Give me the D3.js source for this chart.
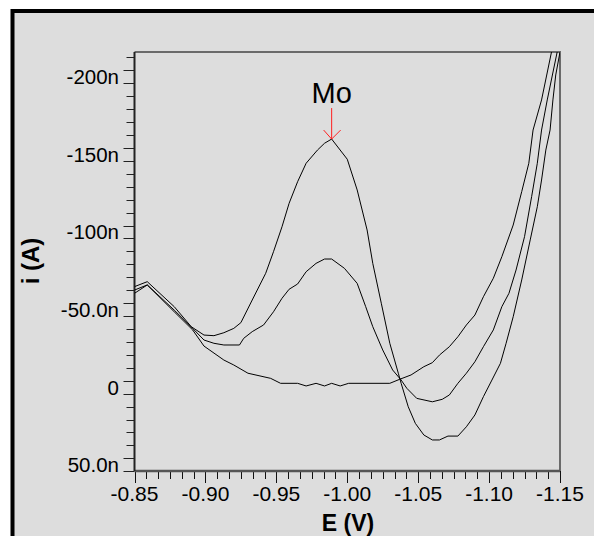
<!DOCTYPE html>
<meta charset="utf-8">
<style>
body { margin: 0; background: #fff; }
text { font-family: Arial, "Liberation Sans", sans-serif; }
</style>
<body>
<script src="https://d3js.org/d3.v7.min.js"></script>
<script>

// potential (V) and current (nA) for the three scans
let scanA_E = [-0.850, -0.859, -0.878, -0.890, -0.899, -0.906, -0.913, -0.920, -0.925, -0.933, -0.9425, -0.948, -0.954, -0.959, -0.965, -0.971, -0.979, -0.984, -0.989, -1.000, -1.007, -1.014, -1.018, -1.024, -1.030, -1.036, -1.038, -1.043, -1.048, -1.054, -1.060, -1.065, -1.071, -1.078, -1.084, -1.090, -1.096, -1.102, -1.108, -1.112, -1.117, -1.123, -1.129, -1.134, -1.137, -1.140, -1.143, -1.145, -1.147, -1.150];
let scanA_i = [-64.8, -68.0, -51.9, -39.0, -33.6, -33.2, -35.1, -37.9, -41.6, -56.2, -73.4, -87.3, -103.4, -118.5, -132.4, -144.3, -152.8, -157.2, -159.9, -146.9, -127.1, -101.3, -79.8, -54.1, -28.3, -9.0, -2.5, 12.6, 23.3, 30.8, 34.0, 34.0, 31.5, 31.5, 25.5, 17.9, 6.1, -4.6, -15.4, -28.3, -45.4, -69.1, -94.9, -116.3, -133.5, -152.8, -165.7, -185.1, -201.2, -216];

let scanB_E = [-0.850, -0.859, -0.878, -0.891, -0.899, -0.906, -0.913, -0.924, -0.927, -0.933, -0.941, -0.948, -0.954, -0.959, -0.965, -0.971, -0.978, -0.984, -0.989, -0.998, -1.007, -1.013, -1.018, -1.025, -1.032, -1.038, -1.042, -1.049, -1.060, -1.067, -1.072, -1.078, -1.084, -1.090, -1.096, -1.103, -1.109, -1.114, -1.119, -1.125, -1.130, -1.134, -1.137, -1.141, -1.148];
let scanB_i = [-62.6, -65.9, -49.7, -37.9, -30.4, -28.3, -27.2, -27.2, -31.5, -35.8, -40.1, -48.6, -57.3, -63.1, -66.5, -74.4, -79.8, -82.6, -82.6, -76.6, -66.9, -51.9, -39.0, -24.0, -11.1, -4.6, 0.7, 7.2, 9.4, 7.8, 5.0, -2.5, -9.0, -16.4, -26.1, -36.9, -51.9, -60.5, -75.5, -97.0, -122.8, -144.3, -165.7, -185.1, -216];

let scanC_E = [-0.850, -0.859, -0.878, -0.891, -0.899, -0.913, -0.920, -0.930, -0.946, -0.953, -0.965, -0.971, -0.978, -0.984, -0.989, -0.995, -1.001, -1.030, -1.037, -1.045, -1.054, -1.060, -1.065, -1.072, -1.078, -1.084, -1.090, -1.096, -1.103, -1.109, -1.117, -1.123, -1.128, -1.131, -1.137, -1.144];
let scanC_i = [-60.5, -65.9, -48.6, -36.9, -26.5, -17.5, -14.3, -9.0, -5.7, -2.5, -2.5, -0.8, -2.5, -0.8, -2.5, -0.8, -2.5, -2.5, -5.1, -7.9, -13.2, -15.8, -20.7, -26.1, -32.5, -40.1, -46.5, -58.3, -70.2, -84.1, -104.5, -126.0, -144.3, -165.7, -185.1, -216];

let xTickLabels = ["-0.85", "-0.90", "-0.95", "-1.00", "-1.05", "-1.10", "-1.15"];
let yTickValues = [-200, -150, -100, -50, 0, 50];
let yTickLabels = ["-200n", "-150n", "-100n", "-50.0n", "0", "50.0n"];
let peakLabel = "Mo";
let peakE = -0.989;
let peakI = -159.9;

let width = 594;
let height = 536;

let svg = d3.select("body").append("svg")
    .attr("width", width)
    .attr("height", height);

// panel with heavy black frame
svg.append("rect")
    .attr("x", 12.5).attr("y", 11)
    .attr("width", 700).attr("height", 700)
    .attr("fill", "#dddddd")
    .attr("stroke", "#000")
    .attr("stroke-width", 4);

let x = d3.scaleLinear().domain([-0.85, -1.15]).range([134.5, 560]);
let y = d3.scaleLinear().domain([-216, 54]).range([52, 471]);

svg.append("defs").append("clipPath").attr("id", "plotclip")
  .append("rect")
    .attr("x", x(-0.85)).attr("y", y(-216))
    .attr("width", x(-1.15) - x(-0.85)).attr("height", y(54) - y(-216));

// top and right edges of the plot box
svg.append("path")
    .attr("d", `M${x(-0.85)},${y(-216)}H${x(-1.15)}V${y(54)}`)
    .attr("fill", "none")
    .attr("stroke", "#6a6a6a")
    .attr("stroke-width", 2);

// x axis: ticks every 0.05/6 V
let xTicks = d3.range(0, 37).map(k => -0.85 - k * 0.05 / 6);
let gx = svg.append("g");
gx.selectAll("line.tick")
  .data(xTicks)
  .enter().append("line")
    .attr("x1", d => Math.round(x(d)) + 0.5)
    .attr("x2", d => Math.round(x(d)) + 0.5)
    .attr("y1", y(54))
    .attr("y2", (d, i) => y(54) + (i % 6 == 0 ? 12 : 8))
    .attr("stroke", "#111")
    .attr("stroke-width", 1);
gx.append("line")
    .attr("x1", x(-0.85)).attr("x2", x(-1.15))
    .attr("y1", y(54)).attr("y2", y(54))
    .attr("stroke", "#555")
    .attr("stroke-width", 2.5);
gx.selectAll("text")
  .data(xTickLabels)
  .enter().append("text")
    .attr("x", d => x(+d))
    .attr("y", 501)
    .attr("text-anchor", "middle")
    .attr("font-size", 21)
    .text(d => d);

// y axis: ticks at odd multiples of 25/6 nA
let yTicks = d3.range(-26, 7).map(k => (2 * k + 1) * 25 / 6);
let gy = svg.append("g");
gy.selectAll("line.tick")
  .data(yTicks)
  .enter().append("line")
    .attr("x1", d => yTickValues.some(v => Math.abs(v - d) < 5) ? x(-0.85) - 11 : x(-0.85) - 8)
    .attr("x2", x(-0.85))
    .attr("y1", d => Math.round(y(d)) + 0.5)
    .attr("y2", d => Math.round(y(d)) + 0.5)
    .attr("stroke", "#222")
    .attr("stroke-width", 1);
gy.append("line")
    .attr("x1", x(-0.85)).attr("x2", x(-0.85))
    .attr("y1", y(-216)).attr("y2", y(54))
    .attr("stroke", "#222")
    .attr("stroke-width", 2);
gy.selectAll("text")
  .data(yTickValues)
  .enter().append("text")
    .attr("x", 119)
    .attr("y", d => y(d))
    .attr("dy", "0.36em")
    .attr("text-anchor", "end")
    .attr("font-size", 20.5)
    .text((d, i) => yTickLabels[i]);

// axis titles
svg.append("text")
    .attr("x", 348).attr("y", 531)
    .attr("text-anchor", "middle")
    .attr("font-size", 23)
    .attr("font-weight", "bold")
    .text("E (V)");
svg.append("text")
    .attr("transform", "translate(39,261) rotate(-90)")
    .attr("text-anchor", "middle")
    .attr("font-size", 24)
    .attr("font-weight", "bold")
    .text("i (A)");

// curves
let line = d3.line().x(d => x(d[0])).y(d => y(d[1]));
let scans = [
  d3.zip(scanA_E, scanA_i),
  d3.zip(scanB_E, scanB_i),
  d3.zip(scanC_E, scanC_i)
];
svg.append("g").attr("clip-path", "url(#plotclip)")
  .selectAll("path")
  .data(scans)
  .enter().append("path")
    .attr("d", line)
    .attr("fill", "none")
    .attr("stroke", "#000")
    .attr("stroke-width", 1);

// peak marker
let px = x(peakE), py = y(peakI);
let mark = svg.append("g").attr("stroke", "#ff2020").attr("stroke-width", 1).attr("fill", "none");
mark.append("path").attr("d", `M${px},${py - 31}V${py}`);
mark.append("path").attr("d", `M${px - 8},${py - 9}L${px},${py}L${px + 9},${py - 9}`);
svg.append("text")
    .attr("x", px).attr("y", py - 36)
    .attr("text-anchor", "middle")
    .attr("font-size", 29)
    .text(peakLabel);

</script>
